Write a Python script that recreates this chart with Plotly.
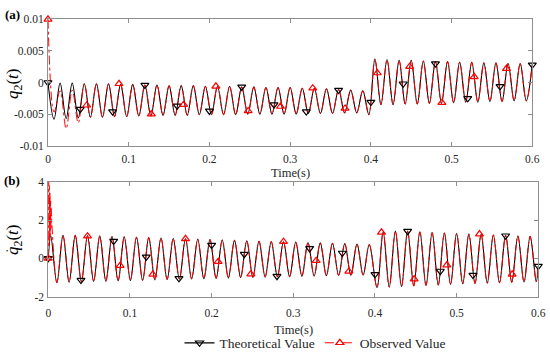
import plotly.graph_objects as go

# ---------------- data ----------------
x_ticks = [0, 0.1, 0.2, 0.3, 0.4, 0.5, 0.6]
x_tick_labels = ["0", "0.1", "0.2", "0.3", "0.4", "0.5", "0.6"]
q_ticks = [-0.01, -0.005, 0, 0.005, 0.01]
q_tick_labels = ["-0.01", "-0.005", "0", "0.005", "0.01"]
qd_ticks = [-2, 0, 2, 4]
qd_tick_labels = ["-2", "0", "2", "4"]

# q2(t): extremum sample times (peak, trough, peak, ...)
t_q = [0, 0.0075, 0.015, 0.0225, 0.03, 0.0375, 0.045, 0.0525, 0.06, 0.0675,
       0.075, 0.0825, 0.09, 0.0975, 0.105, 0.1125, 0.12, 0.1275, 0.135, 0.1425,
       0.15, 0.1575, 0.165, 0.1725, 0.18, 0.1875, 0.195, 0.2025, 0.21, 0.2175,
       0.225, 0.2325, 0.24, 0.2475, 0.255, 0.2625, 0.27, 0.2775, 0.285, 0.2925,
       0.3, 0.3075, 0.315, 0.3225, 0.33, 0.3375, 0.345, 0.3525, 0.36, 0.3675,
       0.375, 0.3825, 0.39, 0.3975, 0.405, 0.4125, 0.42, 0.4275, 0.435, 0.4425,
       0.45, 0.4575, 0.465, 0.4725, 0.48, 0.4875, 0.495, 0.5025, 0.51, 0.5175,
       0.525, 0.5325, 0.54, 0.5475, 0.555, 0.5625, 0.57, 0.5775, 0.585, 0.5925, 0.6]
q_peaks = [0.0, -0.0001, -0.0001, -0.0002, -0.0002, -0.0002, -0.0003,
           -0.0003, -0.0004, -0.0004, -0.0005, -0.0005, -0.0005, -0.0006,
           -0.0006, -0.0006, -0.0007, -0.0007, -0.0008, -0.0008, -0.0008,
           -0.0009, -0.0009, -0.0010, -0.0011, -0.0012, -0.0013,
           0.0037,
           0.0036, 0.0035, 0.0035, 0.0034, 0.0033, 0.0033,
           0.0032, 0.0032, 0.0031, 0.0031, 0.0030, 0.0030, 0.0029]
q_troughs = [-0.0058, -0.0057, -0.0056, -0.0055, -0.0055, -0.0054, -0.0054,
             -0.0053, -0.0053, -0.0052, -0.0052, -0.0052, -0.0051, -0.0051,
             -0.0051, -0.0051, -0.0050, -0.0050, -0.0050, -0.0050, -0.0050,
             -0.0049, -0.0049, -0.0049, -0.0048, -0.0048,
             -0.0051,
             -0.0035, -0.0035, -0.0034, -0.0034, -0.0033, -0.0033,
             -0.0032, -0.0031, -0.0031, -0.0030, -0.0030, -0.0029, -0.0029]
# observed q2: start transient (first samples of t_q), then follows theoretical
q_obs_head = [0.0100, -0.0047, -0.0013, -0.0073, -0.0012, -0.0064]

# dq2/dt: extremum sample times
t_qd_head = [0]
t_qd_a = [0.003, 0.0105, 0.018, 0.0255, 0.033, 0.0405, 0.048, 0.0555, 0.063, 0.0705,
          0.078, 0.0855, 0.093, 0.1005, 0.108, 0.1155, 0.123, 0.1305, 0.138, 0.1455,
          0.153, 0.1605, 0.168, 0.1755, 0.183, 0.1905, 0.198, 0.2055, 0.213, 0.2205,
          0.228, 0.2355, 0.243, 0.2505, 0.258, 0.2655, 0.273, 0.2805, 0.288, 0.2955,
          0.303, 0.3105, 0.318, 0.3255, 0.333, 0.3405, 0.348, 0.3555, 0.363, 0.3705,
          0.378, 0.3855, 0.393]
t_qd_b = [0.4025, 0.41, 0.4175, 0.425, 0.4325, 0.44, 0.4475, 0.455, 0.4625, 0.47,
          0.4775, 0.485, 0.4925, 0.5, 0.5075, 0.515, 0.5225, 0.53, 0.5375, 0.545,
          0.5525, 0.56, 0.5675, 0.575, 0.5825, 0.59, 0.5975]
t_qd_end = [0.6]
qd_peaks_a = [1.18, 1.2, 1.2, 1.18, 1.16, 1.14, 1.12, 1.1, 1.08, 1.06, 1.04, 1.02, 1.0,
              0.98, 0.96, 0.94, 0.92, 0.9, 0.88, 0.87, 0.85, 0.83, 0.81, 0.79, 0.77,
              0.75, 0.72]
qd_troughs_a = [-1.27, -1.24, -1.22, -1.2, -1.19, -1.17, -1.15, -1.14, -1.12, -1.1,
                -1.09, -1.07, -1.06, -1.04, -1.02, -1.0, -0.99, -0.97, -0.96, -0.95,
                -0.93, -0.92, -0.9, -0.89, -0.88, -0.87]
qd_troughs_b = [-1.52, -1.5, -1.47, -1.44, -1.41, -1.39, -1.36, -1.33, -1.31, -1.29,
                -1.27, -1.25, -1.23, -1.21]
qd_peaks_b = [1.38, 1.42, 1.42, 1.38, 1.35, 1.32, 1.3, 1.27, 1.25, 1.22, 1.2, 1.17, 1.15]
qd_start = [0.0]
qd_end = [-0.4]
# observed dq2/dt start spike
t_qd_obs_head = [0, 0.0004, 0.0008, 0.0012, 0.0016, 0.002, 0.0024, 0.0028, 0.0032, 0.0036, 0.004]
qd_obs_head = [0.0, 4.0, 0.6, 3.8, 0.9, 3.4, 1.2, 3.0, 1.5, 2.6, 2.1]

# marker samples
t_mk_theo = [0, 0.04, 0.08, 0.12, 0.16, 0.2, 0.24, 0.28, 0.32, 0.36, 0.4, 0.44, 0.48, 0.52, 0.56, 0.6]
t_mk_obs = [0, 0.048, 0.088, 0.128, 0.168, 0.208, 0.248, 0.288, 0.328, 0.368, 0.408, 0.448, 0.488, 0.528, 0.568]
q_mk_theo = [0.0, -0.0042, -0.0046, -0.0004, -0.0037, -0.0045, -0.0007, -0.0035, -0.0046,
             -0.0012, -0.0031, -0.0002, 0.0030, -0.0025, -0.0006, 0.0028]
q_mk_obs = [0.0100, -0.0036, -0.0002, -0.0050, -0.0035, -0.0006, -0.0045, -0.0038, -0.0009,
            -0.0041, 0.0015, 0.0025, -0.0032, 0.0009, 0.0022]
qd_mk_theo = [0.0, -1.13, 0.9, 0.08, -1.04, 0.69, 0.22, -0.93, 0.52, 0.28, -0.83, 1.42,
              -0.66, -0.87, 1.18, -0.4]
qd_mk_obs = [0.0, 1.16, -0.38, -0.83, 1.02, -0.17, -0.82, 0.87, -0.12, -0.68, 1.36, -1.08,
             -0.35, 1.27, -0.83]

series_names = ["Theoretical Value", "Observed Value"]


def interleave(first, second):
    out = []
    for i in range(max(len(first), len(second))):
        if i < len(first):
            out.append(first[i])
        if i < len(second):
            out.append(second[i])
    return out


q_theo = interleave(q_peaks, q_troughs)
q_obs = q_obs_head + q_theo[len(q_obs_head):]

t_qd = t_qd_head + t_qd_a + t_qd_b + t_qd_end
qd_theo = qd_start + interleave(qd_peaks_a, qd_troughs_a) + interleave(qd_troughs_b, qd_peaks_b) + qd_end
t_qd_obs = t_qd_obs_head + t_qd[2:]
qd_obs = qd_obs_head + qd_theo[2:]

# ---------------- styling ----------------
FONT = "Liberation Serif"
AX = "#8f8f8f"
TXT = "#262626"
BLACK = "#000000"
RED = "#ff0000"
W, H = 550, 352


def px(x):
    return x / W


def py(y):
    return 1 - y / H


fig = go.Figure()

for xa, ya, tt, th, to, ob in [("x", "y", t_q, q_theo, t_q, q_obs),
                               ("x2", "y2", t_qd, qd_theo, t_qd_obs, qd_obs)]:
    fig.add_trace(go.Scatter(x=tt, y=th, mode="lines", xaxis=xa, yaxis=ya,
                             line=dict(color=BLACK, width=1.1, shape="spline", smoothing=1),
                             showlegend=False, hoverinfo="skip"))
    fig.add_trace(go.Scatter(x=to, y=ob, mode="lines", xaxis=xa, yaxis=ya,
                             line=dict(color=RED, width=1, dash="dashdot", shape="spline", smoothing=1),
                             showlegend=False, hoverinfo="skip"))

for xa, ya, mt, mo in [("x", "y", q_mk_theo, q_mk_obs), ("x2", "y2", qd_mk_theo, qd_mk_obs)]:
    fig.add_trace(go.Scatter(x=t_mk_theo, y=mt, mode="markers", xaxis=xa, yaxis=ya,
                             marker=dict(symbol="triangle-down-open", size=7, color=BLACK,
                                         line=dict(width=1.2, color=BLACK)),
                             cliponaxis=False, showlegend=False, hoverinfo="skip"))
    fig.add_trace(go.Scatter(x=t_mk_obs, y=mo, mode="markers", xaxis=xa, yaxis=ya,
                             marker=dict(symbol="triangle-up-open", size=7, color=RED,
                                         line=dict(width=1.2, color=RED)),
                             cliponaxis=False, showlegend=False, hoverinfo="skip"))

# legend entries
fig.add_trace(go.Scatter(x=[None], y=[None], mode="lines+markers", name=series_names[0],
                         line=dict(color=BLACK, width=1.2),
                         marker=dict(symbol="triangle-down-open", size=7, color=BLACK,
                                     line=dict(width=1.2, color=BLACK))))
fig.add_trace(go.Scatter(x=[None], y=[None], mode="lines+markers", name=series_names[1],
                         line=dict(color=RED, width=1, dash="dash"),
                         marker=dict(symbol="triangle-up-open", size=7, color=RED,
                                     line=dict(width=1.2, color=RED))))

common_axis = dict(ticks="inside", ticklen=4, tickcolor=AX, tickwidth=1,
                   showline=True, linecolor=AX, linewidth=1, mirror="ticks",
                   showgrid=False, zeroline=False, automargin=False,
                   tickfont=dict(family=FONT, size=11.5, color=TXT))


def note(text, x, y, size, color=TXT, angle=0):
    return dict(text=text, x=px(x), y=py(y), xref="paper", yref="paper",
                xanchor="center", yanchor="middle", showarrow=False, textangle=angle,
                font=dict(family=FONT, size=size, color=color))


fig.update_layout(
    template="none",
    width=W, height=H,
    margin=dict(l=0, r=0, t=0, b=0, pad=0, autoexpand=False),
    paper_bgcolor="white", plot_bgcolor="white",
    font=dict(family=FONT, color=TXT),
    xaxis=dict(domain=[px(48), px(532.3)], anchor="y", range=[0, 0.6],
               tickvals=x_ticks, ticktext=x_tick_labels, ticklabelstandoff=2, **common_axis),
    yaxis=dict(domain=[py(145.7), py(19.3)], anchor="x", range=[-0.01, 0.01],
               tickvals=q_ticks, ticktext=q_tick_labels, ticklabelstandoff=1, **common_axis),
    xaxis2=dict(domain=[px(48.3), px(538.3)], anchor="y2", range=[0, 0.6],
                tickvals=x_ticks, ticktext=x_tick_labels, ticklabelstandoff=5, **common_axis),
    yaxis2=dict(domain=[py(296.7), py(181.7)], anchor="x2", range=[-2, 4],
                tickvals=qd_ticks, ticktext=qd_tick_labels, ticklabelstandoff=1, **common_axis),
    showlegend=True,
    legend=dict(orientation="h", x=px(315), xanchor="center", y=py(343), yanchor="middle",
                font=dict(family=FONT, size=13.5, color=TXT), bgcolor="rgba(0,0,0,0)",
                borderwidth=0, itemwidth=30, tracegroupgap=0),
    annotations=[
        note("<b>(a)</b>", 12.5, 14, 13, "black"),
        note("<b>(b)</b>", 12, 180, 13, "black"),
        note("Time(s)", 290, 173, 12.5),
        note("Time(s)", 293, 330, 12.5),
        note("<i>q</i><sub>2</sub>(<i>t</i>)", 14, 84, 17, "black", -90),
        note("<i>q</i><sub>2</sub>(<i>t</i>)", 14, 240, 17, "black", -90),
        note("\u2022", 6.5, 251, 6, "black"),
    ],
)

fig.write_html("out.html", config={"displayModeBar": False},
               post_script="document.body.style.margin='0px';document.body.style.padding='0px';")
